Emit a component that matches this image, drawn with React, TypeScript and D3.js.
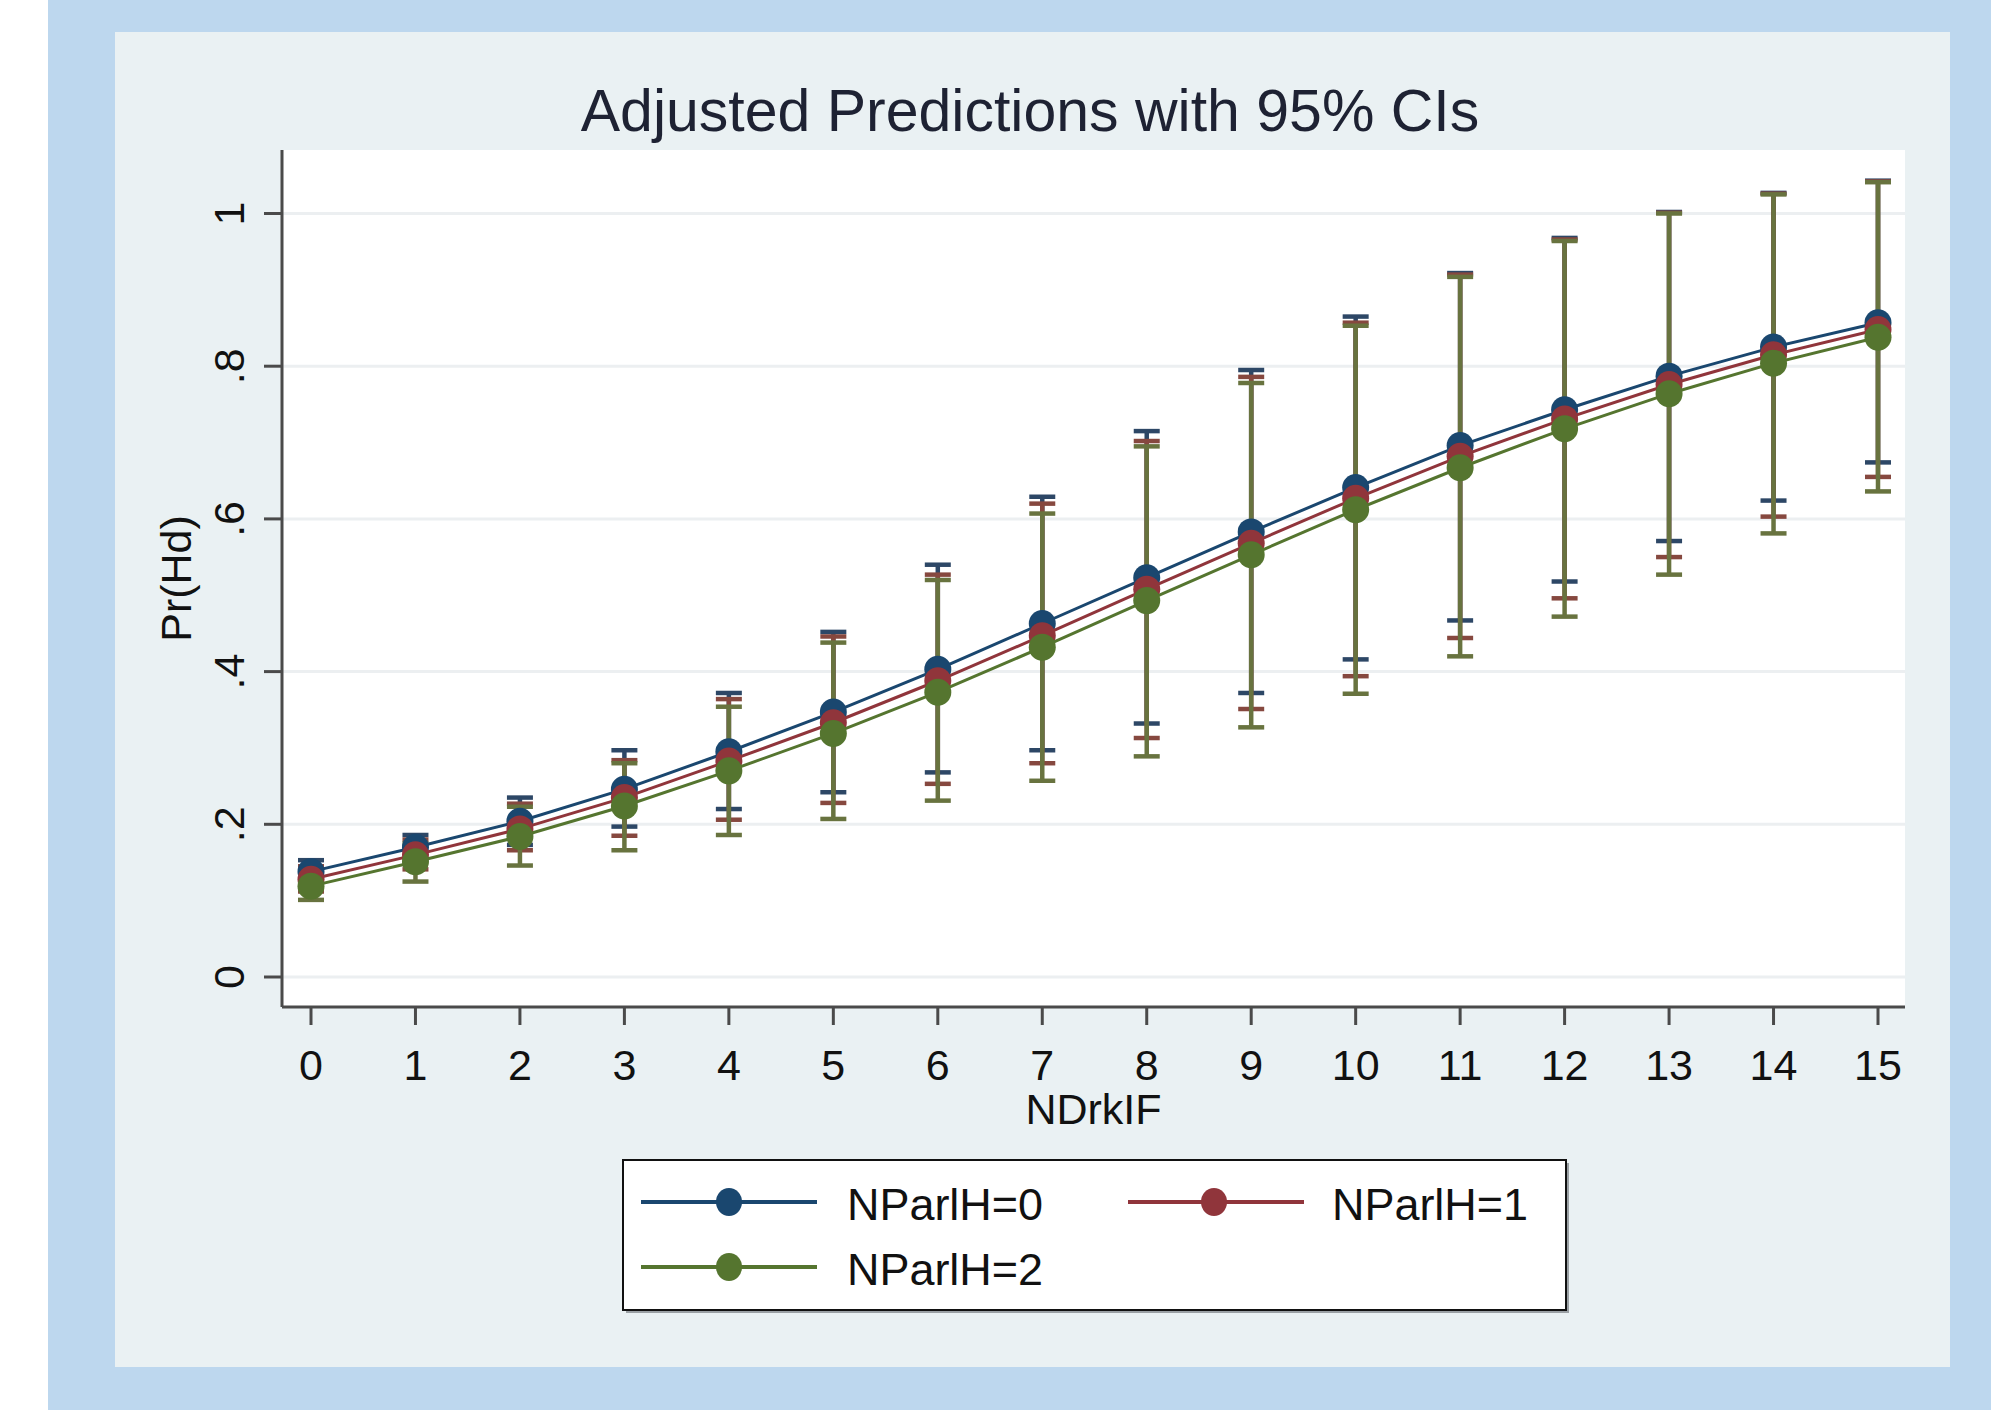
import React from 'react';
import * as d3 from 'd3';

// NDrkIF categories (x axis)
const ndrkif = [0, 1, 2, 3, 4, 5, 6, 7, 8, 9, 10, 11, 12, 13, 14, 15];
const seriesNames = ['NParlH=0', 'NParlH=1', 'NParlH=2'];

// Predicted Pr(Hd)
const mean0 = [0.138, 0.170, 0.204, 0.246, 0.295, 0.347, 0.403, 0.463, 0.523, 0.583, 0.641, 0.696, 0.743, 0.787, 0.825, 0.857];
const mean1 = [0.128, 0.160, 0.194, 0.235, 0.283, 0.333, 0.388, 0.447, 0.508, 0.568, 0.627, 0.682, 0.731, 0.776, 0.815, 0.848];
const mean2 = [0.119, 0.151, 0.184, 0.224, 0.270, 0.319, 0.373, 0.432, 0.493, 0.553, 0.612, 0.667, 0.718, 0.764, 0.804, 0.838];

// 95% CI upper bounds
const upper0 = [0.153, 0.186, 0.235, 0.297, 0.372, 0.452, 0.540, 0.629, 0.715, 0.795, 0.865, 0.922, 0.968, 1.002, 1.027, 1.043];
const upper1 = [0.145, 0.180, 0.227, 0.284, 0.364, 0.446, 0.527, 0.620, 0.702, 0.786, 0.857, 0.920, 0.966, 1.001, 1.026, 1.042];
const upper2 = [0.138, 0.175, 0.223, 0.280, 0.354, 0.438, 0.520, 0.607, 0.695, 0.778, 0.853, 0.917, 0.964, 1.000, 1.025, 1.041];

// 95% CI lower bounds
const lower0 = [0.123, 0.154, 0.173, 0.197, 0.220, 0.242, 0.268, 0.297, 0.332, 0.372, 0.416, 0.467, 0.518, 0.571, 0.624, 0.674];
const lower1 = [0.112, 0.141, 0.166, 0.185, 0.206, 0.228, 0.253, 0.280, 0.313, 0.351, 0.394, 0.444, 0.496, 0.550, 0.603, 0.655];
const lower2 = [0.101, 0.125, 0.146, 0.166, 0.186, 0.207, 0.231, 0.257, 0.289, 0.327, 0.371, 0.420, 0.472, 0.527, 0.581, 0.636];

const yTicks = [0, 0.2, 0.4, 0.6, 0.8, 1];
const yTickLabels = ['0', '.2', '.4', '.6', '.8', '1'];
const xTickLabels = ['0', '1', '2', '3', '4', '5', '6', '7', '8', '9', '10', '11', '12', '13', '14', '15'];

const lineColors = ['#1a476f', '#90353b', '#55752f'];
const ciColors = ['#2d4766', '#86483f', '#68733f'];

const FONT = '"Liberation Sans", Arial, Helvetica, sans-serif';

export default function App() {
  const W = 1991;
  const H = 1410;
  const plotL = 282, plotR = 1905, plotT = 150, plotB = 1007;

  const x = d3.scaleLinear().domain([0, 15]).range([311, 1878]);
  const y = d3.scaleLinear().domain([0, 1]).range([977, 213.5]);

  const series = [
    { name: seriesNames[0], mean: mean0, lo: lower0, hi: upper0, color: lineColors[0], ci: ciColors[0] },
    { name: seriesNames[1], mean: mean1, lo: lower1, hi: upper1, color: lineColors[1], ci: ciColors[1] },
    { name: seriesNames[2], mean: mean2, lo: lower2, hi: upper2, color: lineColors[2], ci: ciColors[2] },
  ];

  const line = d3
    .line<number>()
    .x((_, i) => x(ndrkif[i]))
    .y((d) => y(d));

  const capHalf = 13;
  const markerR = 13.5;

  const legendItems = [
    { s: series[0], lx: 641, mx: 729, tx: 847, cy: 1202, by: 1220 },
    { s: series[1], lx: 1128, mx: 1214, tx: 1332, cy: 1202, by: 1220 },
    { s: series[2], lx: 641, mx: 729, tx: 847, cy: 1267, by: 1285 },
  ];

  return (
    <svg
      width={W}
      height={H}
      viewBox={`0 0 ${W} ${H}`}
      style={{ position: 'absolute', left: 0, top: 0, display: 'block' }}
      fontFamily={FONT}
    >
      {/* backgrounds */}
      <rect x={0} y={0} width={W} height={H} fill="#ffffff" />
      <rect x={48} y={0} width={W - 48} height={H} fill="#bdd7ee" />
      <rect x={115} y={32} width={1835} height={1335} fill="#eaf1f3" />
      <rect x={plotL} y={plotT} width={plotR - plotL} height={plotB - plotT} fill="#ffffff" />

      {/* title */}
      <text x={1030} y={131} textAnchor="middle" fontSize={59} fill="#1e2233">
        Adjusted Predictions with 95% CIs
      </text>

      {/* gridlines */}
      {yTicks.map((t) => (
        <line key={`g${t}`} x1={plotL} x2={plotR} y1={y(t)} y2={y(t)} stroke="#eceff1" strokeWidth={3} />
      ))}

      {/* y axis */}
      <line x1={plotL} x2={plotL} y1={plotT} y2={plotB} stroke="#4a4a4a" strokeWidth={3} />
      {yTicks.map((t, i) => (
        <g key={`yt${t}`}>
          <line x1={plotL - 18} x2={plotL} y1={y(t)} y2={y(t)} stroke="#4a4a4a" strokeWidth={3} />
          <text
            transform={`translate(244,${y(t)}) rotate(-90)`}
            textAnchor="middle"
            fontSize={43}
            fill="#111"
          >
            {yTickLabels[i]}
          </text>
        </g>
      ))}
      <text transform={`translate(191,${(plotT + plotB) / 2}) rotate(-90)`} textAnchor="middle" fontSize={43} fill="#111">
        Pr(Hd)
      </text>

      {/* x axis */}
      <line x1={plotL} x2={plotR} y1={plotB} y2={plotB} stroke="#4a4a4a" strokeWidth={3} />
      {ndrkif.map((v, i) => (
        <g key={`xt${v}`}>
          <line x1={x(v)} x2={x(v)} y1={plotB} y2={plotB + 18} stroke="#4a4a4a" strokeWidth={3} />
          <text x={x(v)} y={1080} textAnchor="middle" fontSize={43} fill="#111">
            {xTickLabels[i]}
          </text>
        </g>
      ))}
      <text x={(plotL + plotR) / 2} y={1124} textAnchor="middle" fontSize={43} fill="#111">
        NDrkIF
      </text>

      {/* confidence intervals */}
      {series.map((s) => (
        <g key={`ci${s.name}`} stroke={s.ci} fill="none">
          {ndrkif.map((v, i) => (
            <g key={v}>
              <line x1={x(v)} x2={x(v)} y1={y(s.lo[i])} y2={y(s.hi[i])} strokeWidth={4.5} />
              <line x1={x(v) - capHalf} x2={x(v) + capHalf} y1={y(s.hi[i])} y2={y(s.hi[i])} strokeWidth={4.5} />
              <line x1={x(v) - capHalf} x2={x(v) + capHalf} y1={y(s.lo[i])} y2={y(s.lo[i])} strokeWidth={4.5} />
            </g>
          ))}
        </g>
      ))}

      {/* lines and markers */}
      {series.map((s) => (
        <g key={`ln${s.name}`}>
          <path d={line(s.mean) || ''} fill="none" stroke={s.color} strokeWidth={3} />
          {ndrkif.map((v, i) => (
            <circle key={v} cx={x(v)} cy={y(s.mean[i])} r={markerR} fill={s.color} />
          ))}
        </g>
      ))}

      {/* legend */}
      <rect x={626} y={1163} width={943} height={150} fill="#9aa0a4" />
      <rect x={623} y={1160} width={943} height={150} fill="#ffffff" stroke="#111" strokeWidth={2} />
      {legendItems.map((it) => (
        <g key={`lg${it.s.name}`}>
          <line x1={it.lx} x2={it.lx + 176} y1={it.cy} y2={it.cy} stroke={it.s.color} strokeWidth={4} />
          <ellipse cx={it.mx} cy={it.cy} rx={13} ry={14} fill={it.s.color} />
          <text x={it.tx} y={it.by} fontSize={44} fill="#111" textLength={196} lengthAdjust="spacingAndGlyphs">
            {it.s.name}
          </text>
        </g>
      ))}
    </svg>
  );
}
